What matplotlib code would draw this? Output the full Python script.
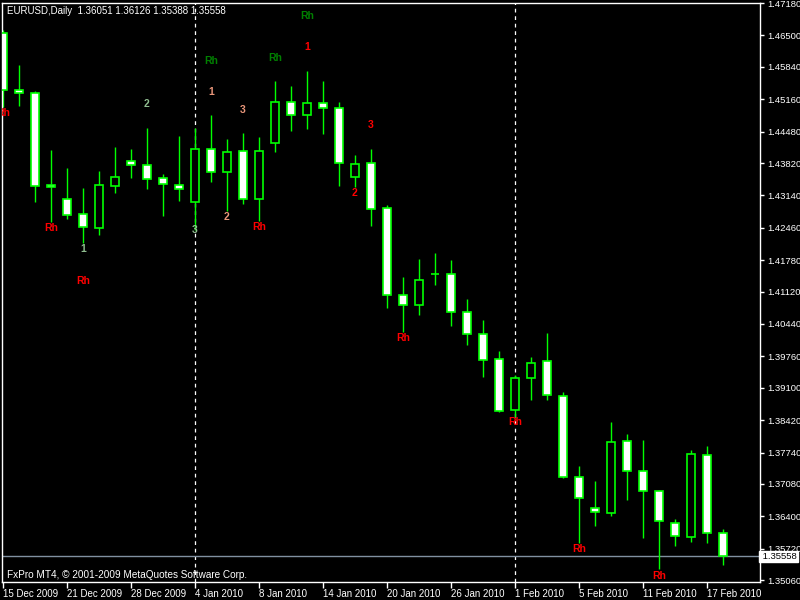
import matplotlib
matplotlib.use("Agg")
import matplotlib.pyplot as plt
import matplotlib.transforms as mtransforms

plt.rcParams["font.family"] = ["Liberation Sans", "DejaVu Sans"]

# EURUSD daily bars, 15 Dec 2009 .. 18 Feb 2010
opens = [1.4655, 1.4535, 1.4529, 1.4336, 1.4306, 1.4275, 1.4246, 1.4334, 1.4386, 1.4378,
         1.4351, 1.4336, 1.4300, 1.4411, 1.4363, 1.4407, 1.4306, 1.4424, 1.4510, 1.4483,
         1.4508, 1.4498, 1.4353, 1.4382, 1.4288, 1.4105, 1.4084, 1.4149, 1.4149, 1.4069,
         1.4023, 1.3970, 1.3863, 1.3931, 1.3966, 1.3893, 1.3723, 1.3658, 1.3647, 1.3798,
         1.3735, 1.3693, 1.3626, 1.3597, 1.3769, 1.36051]
highs = [1.4661, 1.4588, 1.4533, 1.4409, 1.4372, 1.4330, 1.4365, 1.4416, 1.4411, 1.4456,
         1.4359, 1.4439, 1.4456, 1.4483, 1.4432, 1.4445, 1.4437, 1.4554, 1.4544, 1.4575,
         1.4554, 1.4510, 1.4399, 1.4411, 1.4294, 1.4143, 1.4180, 1.4193, 1.4178, 1.4096,
         1.4052, 1.3987, 1.3937, 1.3975, 1.4025, 1.3901, 1.3746, 1.3714, 1.3838, 1.3813,
         1.3800, 1.3695, 1.3634, 1.3779, 1.3788, 1.36126]
lows = [1.4500, 1.4502, 1.4300, 1.4258, 1.4264, 1.4214, 1.4231, 1.4319, 1.4351, 1.4327,
        1.4271, 1.4302, 1.4241, 1.4342, 1.4281, 1.4296, 1.4260, 1.4405, 1.4449, 1.4453,
        1.4443, 1.4334, 1.4332, 1.4250, 1.4078, 1.4027, 1.4063, 1.4126, 1.4040, 1.4000,
        1.3933, 1.3859, 1.3849, 1.3884, 1.3884, 1.3720, 1.3584, 1.3620, 1.3641, 1.3674,
        1.3595, 1.3529, 1.3578, 1.3586, 1.3584, 1.35388]
closes = [1.4535, 1.4529, 1.4334, 1.4332, 1.4273, 1.4248, 1.4336, 1.4353, 1.4378, 1.4348,
          1.4338, 1.4327, 1.4411, 1.4363, 1.4405, 1.4306, 1.4407, 1.4510, 1.4483, 1.4508,
          1.4498, 1.4382, 1.4380, 1.4285, 1.4105, 1.4084, 1.4136, 1.4149, 1.4069, 1.4023,
          1.3968, 1.3861, 1.3931, 1.3962, 1.3895, 1.3723, 1.3679, 1.3649, 1.3796, 1.3735,
          1.3693, 1.3630, 1.3599, 1.3771, 1.3605, 1.35558]

date_labels = ["15 Dec 2009", "21 Dec 2009", "28 Dec 2009", "4 Jan 2010", "8 Jan 2010",
               "14 Jan 2010", "20 Jan 2010", "26 Jan 2010", "1 Feb 2010", "5 Feb 2010",
               "11 Feb 2010", "17 Feb 2010"]
date_bars = [0, 4, 8, 12, 16, 20, 24, 28, 32, 36, 40, 44]
separator_bars = [12, 32]

price_ticks = [1.47180, 1.46500, 1.45840, 1.45160, 1.44480, 1.43820, 1.43140, 1.42460,
               1.41780, 1.41120, 1.40440, 1.39760, 1.39100, 1.38420, 1.37740, 1.37080,
               1.36400, 1.35720, 1.35060]

# indicator marks
sig_bars = [0, 3, 5, 5, 9, 12, 13, 13, 14, 15, 16, 17, 19, 19, 22, 23, 25, 32, 36, 41]
sig_prices = [1.4487, 1.4246, 1.4201, 1.4134, 1.4506, 1.4241, 1.4596, 1.4531, 1.4269, 1.4493,
              1.4248, 1.4603, 1.4691, 1.4626, 1.4319, 1.4462, 1.4015, 1.3838, 1.3571, 1.3515]
sig_texts = ["Rh", "Rh", "1", "Rh", "2", "3", "Rh", "1", "2", "3",
             "Rh", "Rh", "Rh", "1", "2", "3", "Rh", "Rh", "Rh", "Rh"]
sig_colors = ["#ff0000", "#ff0000", "#8fbc8f", "#ff0000", "#8fbc8f", "#8fbc8f", "#008000",
              "#e9967a", "#e9967a", "#e9967a", "#ff0000", "#008000", "#008000", "#ff0000",
              "#ff0000", "#ff0000", "#ff0000", "#ff0000", "#ff0000", "#ff0000"]

last_price = 1.35558

fig = plt.figure(figsize=(8, 6), dpi=100, facecolor="black")
ax = fig.add_axes([2 / 800, 18 / 600, 758 / 800, 579 / 600])
ax.set_facecolor("black")

x = list(range(len(opens)))
fills = ["white" if c < o else "black" for o, c in zip(opens, closes)]

ax.vlines(x, lows, highs, color="#00ff00", linewidth=1, zorder=2)
ax.bar(x, [c - o for o, c in zip(opens, closes)], bottom=opens, width=0.56,
       color=fills, edgecolor="#00ff00", linewidth=1.2, zorder=3)

for b in separator_bars:
    ax.axvline(b, color="white", linestyle=(0, (3, 3)), linewidth=0.9, zorder=1)

ax.axhline(last_price, color="#8090a0", linewidth=1, zorder=1)

for b, p, t, c in zip(sig_bars, sig_prices, sig_texts, sig_colors):
    ax.text(b, p, t, color=c, fontsize=7.5, fontweight="bold", ha="center", va="center",
            zorder=5, clip_on=True)

ax.set_xlim(-0.0625, 47.3125)
ax.set_ylim(1.35021, 1.4718)

ax.set_xticks(date_bars)
ax.set_xticklabels(date_labels, ha="left")
ax.yaxis.tick_right()
ax.set_yticks(price_ticks)
ax.set_yticklabels([f"{p:.5f}" for p in price_ticks])
ax.tick_params(axis="x", colors="white", labelsize=7, length=4, width=1, pad=1)
ax.tick_params(axis="y", colors="white", labelsize=6.8, length=3, width=1, pad=2)
for s in ax.spines.values():
    s.set_color("white")
    s.set_linewidth(1)

trans = mtransforms.blended_transform_factory(ax.transAxes, ax.transData)
ax.text(1.0, last_price, " " + f"{last_price:.5f}", transform=trans, color="black",
        fontsize=6.8, ha="left", va="center", zorder=10, clip_on=False,
        bbox=dict(boxstyle="square,pad=0.1", facecolor="white", edgecolor="white"))

fig.text(7 / 800, 1 - 11 / 600, "EURUSD,Daily  1.36051 1.36126 1.35388 1.35558",
         color="white", fontsize=7, va="center", ha="left")
fig.text(7 / 800, 1 - 575 / 600, "FxPro MT4, \u00a9 2001-2009 MetaQuotes Software Corp.",
         color="white", fontsize=7.2, va="center", ha="left")

fig.savefig("out.png", dpi=100, facecolor="black")
